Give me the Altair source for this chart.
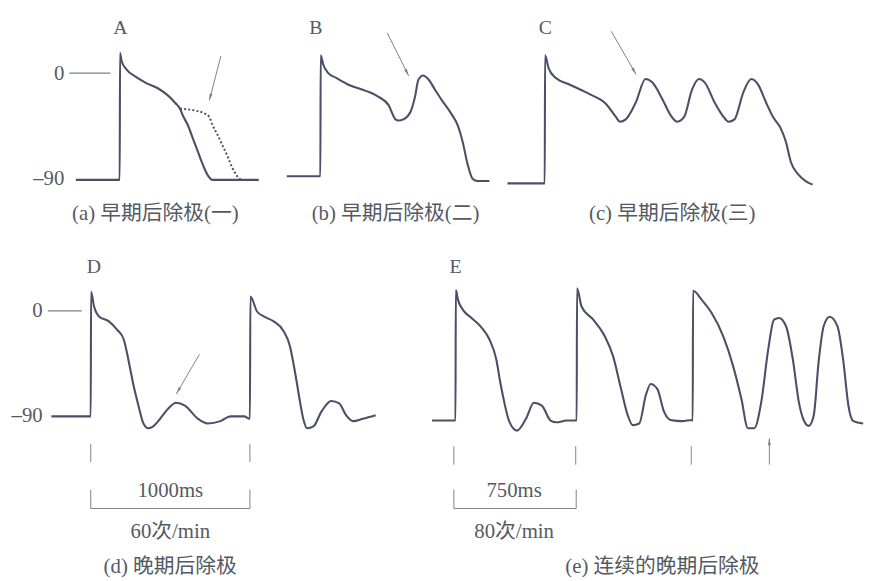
import math
import altair as alt
import pandas as pd

# ---------------- data: time t in ms, membrane potential v in mV ----------------
A_t = [-266, 0, 2, 12, 42, 96, 156, 234, 294, 336, 366, 384, 414, 444, 474, 504, 534, 564, 600, 844]
A_v = [-90, -90, 17, 10, 3, -3, -8, -13, -19, -25, -30, -36, -44, -55, -66, -77, -86, -90, -90, -90]
A_dot_t = [366, 454, 514, 544, 564, 594, 624, 654, 684, 714, 734]
A_dot_v = [-30, -31.5, -34, -37, -44, -52, -61, -70, -80, -87, -90]

B_t = [-204, 0, 2, 18, 48, 96, 174, 276, 354, 414, 456, 474, 504, 546, 576, 594, 624, 654, 696, 738,
       798, 834, 864, 894, 924, 954, 1026]
B_v = [-87, -87, 15, 7, 0, -4, -10, -15, -20, -27, -39, -40, -39, -33, -19, -6, -2, -5, -14, -23,
       -35, -44, -58, -77, -89, -91, -91]

C_t = [-226, 0, 2, 24, 66, 156, 276, 372, 432, 456, 492, 552, 612, 654, 714, 762, 804, 846, 894, 936,
       972, 1032, 1086, 1116, 1152, 1206, 1254, 1296, 1344, 1386, 1434, 1464, 1494, 1536, 1584, 1626]
C_v = [-93, -93, 15, 4, -4, -10, -18, -26, -37, -41, -39, -25, -5, -8, -22, -35, -41, -37, -14, -5,
       -8, -25, -37, -41, -39, -16, -5, -10, -25, -37, -47, -58, -75, -85, -91, -94]

D_t = [-247, 0, 2, 21, 52, 114, 165, 207, 227, 248, 269, 300, 331, 362, 393, 424, 486, 536, 592, 673,
       735, 815, 878, 965, 998, 1000, 1003, 1045, 1087, 1149, 1211, 1252, 1273, 1294, 1315, 1335, 1360,
       1399, 1449, 1511, 1561, 1604, 1648, 1710, 1790]
D_v = [-89, -89, 16, 3.6, -4.75, -8.9, -15.8, -24, -35, -49, -63, -80, -95, -99, -97.5, -93, -82.5, -77.5,
       -80, -91, -95, -93, -89, -89, -91, -91, 12, -0.6, -4.75, -8.9, -17, -30, -44, -60, -77, -91, -99,
       -97.5, -85, -76, -78, -88, -93, -91, -88]

E_t = [-145, 0, 2, 16, 45, 99, 160, 209, 252, 276, 301, 331, 380, 435, 484, 533, 587, 624, 685, 746,
       748, 750, 778, 850, 921, 972, 1022, 1063, 1094, 1134, 1175, 1205, 1246, 1287, 1327, 1399, 1460,
       1464, 1466, 1520, 1581, 1652, 1713, 1764, 1805, 1844, 1887, 1930, 1966, 1997, 2040, 2082, 2119,
       2150, 2180, 2211, 2241, 2272, 2309, 2357, 2394, 2425, 2455, 2516]
E_v = [-92.5, -92.5, 17.5, 9, 1, -6, -14, -24, -41, -60, -77, -93, -101, -91, -77.5, -80, -92.5, -94,
       -92.5, -92.5, -92.5, 19, 3.6, -7.5, -21.4, -38, -66, -88, -96.4, -95, -71, -61.7, -66, -85, -92,
       -93, -92, -92.5, 16.9, 9.2, -1.9, -21.4, -46.4, -74, -99, -99, -77, -32.5, -7.5, -6, -13, -41,
       -77, -92.5, -97, -88, -43, -13, -5, -13, -43, -80, -93, -95]

panel_letters = ["A", "B", "C", "D", "E"]
captions = ["(a) 早期后除极(一)", "(b) 早期后除极(二)", "(c) 早期后除极(三)", "(d) 晚期后除极", "(e) 连续的晚期后除极"]
y_tick_labels = ["0", "\u201390"]
interval_labels = ["1000ms", "750ms"]
rate_labels = ["60次/min", "80次/min"]

# ---------------- styling ----------------
FONT = "Liberation Serif, Noto Sans CJK SC, serif"
TRACE = "#4a5068"
TEXT = "#545a63"
THIN = "#7d828a"
HEAD = "M0,0L0.55,2.6L-0.55,2.6Z"
FS = 21
LS = 20


def panel(rect, origin, kx, ky, traces, dotted=None, rules=(), arrows=(), texts=()):
    x0, y0, x1, y1 = rect
    ox, oy = origin
    xs = alt.Scale(domain=[(x0 - ox) * kx, (x1 - ox) * kx], nice=False, zero=False)
    ys = alt.Scale(domain=[(oy - y1) / ky, (oy - y0) / ky], nice=False, zero=False)
    X = alt.X("t:Q", scale=xs, axis=None)
    Y = alt.Y("v:Q", scale=ys, axis=None)
    layers = []
    if rules or arrows:
        rows = [dict(t=a, v=b, t2=c, v2=d, w=w) for (a, b, c, d, w) in rules]
        rows += [dict(t=a, v=b, t2=c, v2=d, w=1.0) for (a, b, c, d) in arrows]
        layers.append(
            alt.Chart(pd.DataFrame(rows)).mark_rule(color=THIN).encode(
                x=X, y=Y, x2="t2:Q", y2="v2:Q", strokeWidth=alt.StrokeWidth("w:Q", scale=None)
            )
        )
    if arrows:
        heads = []
        for (a, b, c, d) in arrows:
            dx = (c - a) / kx
            dy = -(d - b) * ky
            ang = math.degrees(math.atan2(dx, -dy)) % 360
            heads.append(dict(t=c, v=d, ang=ang))
        layers.append(
            alt.Chart(pd.DataFrame(heads)).mark_point(
                shape=HEAD, filled=True, size=30, color=THIN, opacity=1, strokeWidth=0
            ).encode(x=X, y=Y, angle=alt.Angle("ang:Q", scale=None))
        )
    for ts, vs in traces:
        d = pd.DataFrame({"t": ts, "v": vs, "i": list(range(len(ts)))})
        layers.append(
            alt.Chart(d).mark_line(
                color=TRACE, strokeWidth=2.1, interpolate="monotone", strokeJoin="round"
            ).encode(x=X, y=Y, order="i:Q")
        )
    if dotted:
        ts, vs = dotted
        d = pd.DataFrame({"t": ts, "v": vs, "i": list(range(len(ts)))})
        layers.append(
            alt.Chart(d).mark_line(
                color=TRACE, strokeWidth=2, interpolate="monotone", strokeDash=[2, 2.2]
            ).encode(x=X, y=Y, order="i:Q")
        )
    for (a, b, label, align, size) in texts:
        d = pd.DataFrame({"t": [a], "v": [b], "label": [label]})
        layers.append(
            alt.Chart(d).mark_text(
                align=align, baseline="middle", font=FONT, fontSize=size, color=TEXT
            ).encode(x=X, y=Y, text="label:N")
        )
    return alt.layer(*layers).properties(width=x1 - x0, height=y1 - y0)


KY = 1.2
# --- top row (image coordinates of each panel) ---
pA = panel(
    (8, 8, 285, 232), (121, 70.5), 6, KY,
    traces=[(A_t, A_v)], dotted=(A_dot_t, A_dot_v),
    rules=[(-306, 0, -56, 0, 1.2)],
    arrows=[(614, 14.3, 544, -23.2)],
    texts=[(4, 37.9, panel_letters[0], "center", LS),
           (-336, -1, y_tick_labels[0], "right", FS),
           (-336, -89, y_tick_labels[1], "right", FS),
           (216, -118.8, captions[0], "center", FS)],
)
pB = panel(
    (285, 8, 505, 232), (324, 70.5), 6, KY,
    traces=[(B_t, B_v)],
    arrows=[(406, 33.8, 536, -2.3)],
    texts=[(-28, 37.9, panel_letters[1], "center", LS),
           (456, -118.8, captions[1], "center", FS)],
)
pC = panel(
    (505, 8, 873, 232), (551, 70.5), 6, KY,
    traces=[(C_t, C_v)],
    arrows=[(404, 35.2, 554, -1)],
    texts=[(4, 37.9, panel_letters[2], "center", LS),
           (774, -118.8, captions[2], "center", FS)],
)
# --- bottom row ---
pD = panel(
    (8, 232, 430, 581), (91.7, 311), 6.21, KY,
    traces=[(D_t, D_v)],
    rules=[(-270, 0, -56, 0, 1.2),
           (0, -112.2, 0, -127.5, 1.0), (1000, -112.2, 1000, -127.5, 1.0),
           (0, -150.8, 0, -166.7, 1.0), (1000, -150.8, 1000, -166.7, 1.0),
           (0, -166.7, 1000, -166.7, 1.0)],
    arrows=[(683, -36.7, 538, -70)],
    texts=[(20, 36.9, panel_letters[3], "center", LS),
           (-302, 0, y_tick_labels[0], "right", FS),
           (-302, -89, y_tick_labels[1], "right", FS),
           (500, -152, interval_labels[0], "center", FS),
           (500, -186.7, rate_labels[0], "center", FS),
           (499, -215.8, captions[3], "center", FS)],
)
pE = panel(
    (430, 232, 873, 581), (460.7, 311), 6.1, KY,
    traces=[(E_t, E_v)],
    rules=[(-10, -114.2, -10, -129.7, 1.0), (742, -114.2, 742, -129.7, 1.0),
           (1455, -114.2, 1455, -129.7, 1.0),
           (-10, -150.8, -10, -166.7, 1.0), (745, -150.8, 745, -166.7, 1.0),
           (-10, -166.7, 745, -166.7, 1.0)],
    arrows=[(1937, -129.7, 1937, -107.5)],
    texts=[(0, 36.9, panel_letters[4], "center", LS),
           (362, -152, interval_labels[1], "center", FS),
           (362, -186.7, rate_labels[1], "center", FS),
           (1277, -215.8, captions[4], "center", FS)],
)

top = alt.hconcat(pA, pB, pC, spacing=0, bounds="flush")
bottom = alt.hconcat(pD, pE, spacing=0, bounds="flush")
chart = (
    alt.vconcat(top, bottom, spacing=0)
    .properties(padding=0, background="white")
    .configure_view(stroke=None)
)

chart.save("out.html", embed_options={"renderer": "svg", "actions": False})
